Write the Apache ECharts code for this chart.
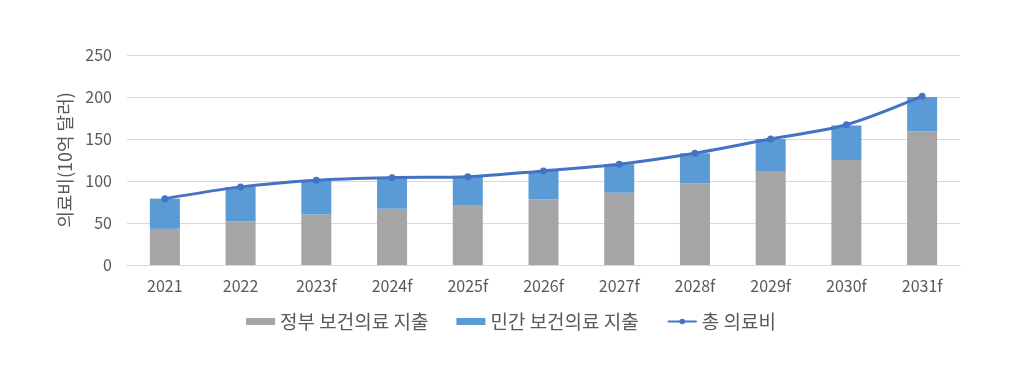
<!DOCTYPE html>
<html><head><meta charset="utf-8">
<script src="https://cdn.jsdelivr.net/npm/echarts@6/dist/echarts.min.js"></script>
<style>html,body{margin:0;padding:0;background:#fff}#c{width:1022px;height:387px}</style>
</head><body><div id="c"></div>
<script>
const categories = ['2021','2022','2023f','2024f','2025f','2026f','2027f','2028f','2029f','2030f','2031f'];
const govSpending = [43, 52, 60, 67, 71, 78, 86, 97, 111, 125, 159];
const privateSpending = [36, 41, 41, 37, 34, 34, 34, 36, 39, 41, 41];
const totalSpending = [79, 93, 101, 104, 105, 112, 120, 133, 150, 167, 201];
const seriesNames = ['정부 보건의료 지출', '민간 보건의료 지출', '총 의료비'];
const yTicks = {min: 0, max: 250, interval: 50};

const font = '"Noto Sans CJK KR", "Noto Sans", sans-serif';
const chart = echarts.init(document.getElementById('c'), null, {renderer: 'canvas'});
chart.setOption({
  animation: false,
  textStyle: {fontFamily: font, color: '#595959'},
  grid: {left: 127, right: 62, top: 55, bottom: 122},
  legend: {
    top: 307, left: 'center', itemGap: 28, itemWidth: 29, itemHeight: 7,
    textStyle: {fontFamily: font, fontSize: 19, color: '#595959'},
    data: [
      {name: seriesNames[0], icon: 'rect'},
      {name: seriesNames[1], icon: 'rect'},
      {name: seriesNames[2]}
    ]
  },
  xAxis: {
    type: 'category', data: categories,
    axisLine: {lineStyle: {color: '#D9D9D9'}},
    axisTick: {show: false},
    axisLabel: {fontFamily: font, fontSize: 16, color: '#595959', margin: 13}
  },
  yAxis: {
    type: 'value', min: yTicks.min, max: yTicks.max, interval: yTicks.interval,
    name: '의료비(10억 달러)', nameLocation: 'middle', nameGap: 52, nameRotate: 90,
    nameTextStyle: {fontFamily: font, fontSize: 18, color: '#595959'},
    axisLine: {show: false}, axisTick: {show: false},
    axisLabel: {fontFamily: font, fontSize: 16, color: '#595959', margin: 15},
    splitLine: {lineStyle: {color: '#D9D9D9', width: 1}}
  },
  series: [
    {name: seriesNames[0], type: 'bar', stack: 's', data: govSpending, barWidth: 30,
     itemStyle: {color: '#A5A5A5'}},
    {name: seriesNames[1], type: 'bar', stack: 's', data: privateSpending, barWidth: 30,
     itemStyle: {color: '#5B9BD5'}},
    {name: seriesNames[2], type: 'line', data: totalSpending, smooth: 0.3,
     symbol: 'circle', symbolSize: 7,
     lineStyle: {color: '#4472C4', width: 3}, itemStyle: {color: '#4472C4'}}
  ]
});
</script></body></html>
